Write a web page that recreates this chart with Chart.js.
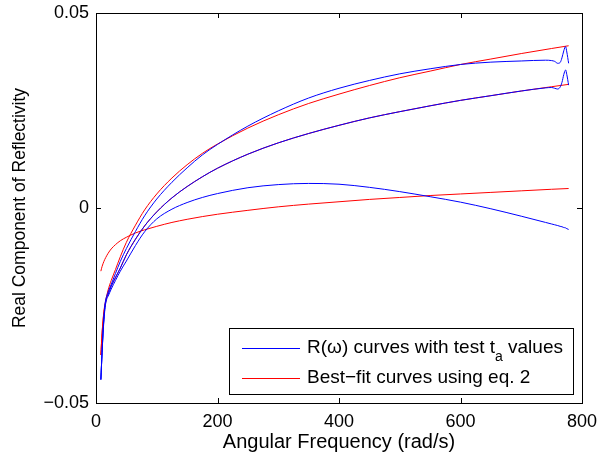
<!DOCTYPE html>
<html>
<head>
<meta charset="utf-8">
<script src="https://cdn.jsdelivr.net/npm/chart.js@4.4.0/dist/chart.umd.min.js"></script>
<style>
  html, body { margin: 0; padding: 0; background: #fff; }
</style>
</head>
<body>
<canvas id="reflChart" width="599" height="457"></canvas>
<script>
// angular frequency samples (rad/s) for the R(w) curves
const omegaR = [8, 10, 12, 15, 18, 20, 25, 32, 40, 50, 65, 80, 100, 125, 150, 175, 200, 250, 300, 350, 400, 450, 500, 550, 600, 650, 700, 740, 750, 755, 760, 764, 767, 770, 773, 775, 778];
const blue1 = [-0.0440, -0.0370, -0.0305, -0.0245, -0.0224, -0.0215, -0.0196, -0.0168, -0.0137, -0.0104, -0.0060, -0.0020, 0.0023, 0.0066, 0.0103, 0.0136, 0.0163, 0.0210, 0.0249, 0.0282, 0.0307, 0.0327, 0.0344, 0.0357, 0.0368, 0.0374, 0.0377, 0.0379, 0.0378, 0.0376, 0.0371, 0.0373, 0.0385, 0.0403, 0.0414, 0.0400, 0.0371];
const blue2 = [-0.0440, -0.0370, -0.0308, -0.0250, -0.0228, -0.0222, -0.0201, -0.0179, -0.0154, -0.0120, -0.0080, -0.0046, -0.0010, 0.0026, 0.0055, 0.0080, 0.0102, 0.0138, 0.0167, 0.0191, 0.0212, 0.0231, 0.0247, 0.0262, 0.0276, 0.0288, 0.0300, 0.0308, 0.0309, 0.0307, 0.0305, 0.0310, 0.0322, 0.0342, 0.0354, 0.0342, 0.0315];
const blue3 = [-0.0440, -0.0372, -0.0312, -0.0255, -0.0232, -0.0226, -0.0208, -0.0186, -0.0162, -0.0136, -0.0096, -0.0061, -0.0028, -0.0003, 0.0014, 0.0027, 0.0037, 0.0052, 0.0060, 0.0063, 0.0061, 0.0053, 0.0042, 0.0029, 0.0015, -0.0002, -0.0021, -0.0037, -0.0041, -0.0043, -0.0045, -0.0047, -0.0048, -0.0050, -0.0051, -0.0053, -0.0055];

// angular frequency samples for the eq. 2 fits
const omegaFit = [8, 10, 13, 16, 20, 25, 32, 40, 50, 65, 80, 100, 125, 150, 175, 200, 250, 300, 350, 400, 450, 500, 550, 600, 650, 700, 750, 778];
const red1 = [-0.0377, -0.0320, -0.0265, -0.0237, -0.0210, -0.0186, -0.0158, -0.0125, -0.0088, -0.0044, -0.0005, 0.0036, 0.0077, 0.0111, 0.0140, 0.0164, 0.0205, 0.0239, 0.0268, 0.0292, 0.0314, 0.0334, 0.0351, 0.0368, 0.0382, 0.0396, 0.0409, 0.0416];
const red2 = [-0.0377, -0.0322, -0.0268, -0.0242, -0.0218, -0.0200, -0.0178, -0.0154, -0.0120, -0.0080, -0.0046, -0.0010, 0.0026, 0.0055, 0.0080, 0.0102, 0.0138, 0.0167, 0.0191, 0.0212, 0.0231, 0.0247, 0.0262, 0.0276, 0.0288, 0.0300, 0.0311, 0.0317];
const red3 = [-0.0162, -0.0150, -0.0137, -0.0127, -0.0116, -0.0105, -0.0094, -0.0084, -0.0075, -0.0064, -0.0056, -0.0047, -0.0037, -0.0029, -0.0022, -0.0016, -0.0006, 0.0003, 0.0010, 0.0016, 0.0022, 0.0027, 0.0032, 0.0036, 0.0040, 0.0044, 0.0048, 0.0050];

const xTicks = [0, 200, 400, 600, 800];
const yTicks = [-0.05, 0, 0.05];

const FONT = "'Liberation Sans', Arial, Helvetica, sans-serif";
const BLUE = '#0000ff';
const RED = '#ff0000';

function toPoints(xs, ys) {
    return xs.map((x, i) => ({ x: x, y: ys[i] }));
}

function lineSet(label, xs, ys, color) {
    return {
        label: label,
        data: toPoints(xs, ys),
        borderColor: color,
        borderWidth: 1,
        pointRadius: 0,
        fill: false,
        cubicInterpolationMode: 'monotone'
    };
}

// first dataset is drawn on top, so blue goes first
const datasets = [
    lineSet('R(ω) curves with test t_a values', omegaR, blue1, BLUE),
    lineSet('R(ω) curves with test t_a values', omegaR, blue2, BLUE),
    lineSet('R(ω) curves with test t_a values', omegaR, blue3, BLUE),
    lineSet('Best−fit curves using eq. 2', omegaFit, red1, RED),
    lineSet('Best−fit curves using eq. 2', omegaFit, red2, RED),
    lineSet('Best−fit curves using eq. 2', omegaFit, red3, RED)
];

// matlab style box with inward ticks on all four sides
const boxAxes = {
    id: 'boxAxes',
    afterDatasetsDraw(chart) {
        const { ctx, chartArea: a, scales } = chart;
        const tl = 5;
        ctx.save();
        ctx.strokeStyle = '#000';
        ctx.lineWidth = 1;
        ctx.strokeRect(a.left + 0.5, a.top + 0.5, a.right - a.left, a.bottom - a.top);
        ctx.beginPath();
        xTicks.forEach(v => {
            const px = Math.round(scales.x.getPixelForValue(v)) + 0.5;
            ctx.moveTo(px, a.bottom); ctx.lineTo(px, a.bottom - tl);
            ctx.moveTo(px, a.top); ctx.lineTo(px, a.top + tl);
        });
        yTicks.forEach(v => {
            const py = Math.round(scales.y.getPixelForValue(v)) + 0.5;
            ctx.moveTo(a.left, py); ctx.lineTo(a.left + tl, py);
            ctx.moveTo(a.right, py); ctx.lineTo(a.right - tl, py);
        });
        ctx.stroke();
        ctx.restore();
    }
};

// boxed legend in the lower right corner, with the t_a subscript
const boxLegend = {
    id: 'boxLegend',
    afterDraw(chart) {
        const { ctx, chartArea: a } = chart;
        const w = 344, h = 66;
        const x0 = Math.round(a.right - 9 - w), y0 = Math.round(a.bottom - 9 - h);
        const entries = [datasets[0], datasets[3]];
        ctx.save();
        ctx.fillStyle = '#fff';
        ctx.fillRect(x0, y0, w, h);
        ctx.strokeStyle = '#000';
        ctx.lineWidth = 1;
        ctx.strokeRect(x0 + 0.5, y0 + 0.5, w, h);
        entries.forEach((ds, i) => {
            const ly = y0 + 20 + i * 30 + 0.5;
            ctx.strokeStyle = ds.borderColor;
            ctx.beginPath();
            ctx.moveTo(x0 + 13, ly);
            ctx.lineTo(x0 + 71, ly);
            ctx.stroke();
            ctx.fillStyle = '#000';
            ctx.textBaseline = 'alphabetic';
            ctx.textAlign = 'left';
            let tx = x0 + 78;
            const base = ly + 4;
            ds.label.split(/(_[a-z])/).forEach(part => {
                if (part.startsWith('_')) {
                    ctx.font = '14px ' + FONT;
                    ctx.fillText(part.slice(1), tx, base + 8);
                    tx += ctx.measureText(part.slice(1)).width;
                } else {
                    ctx.font = '19px ' + FONT;
                    ctx.fillText(part, tx, base);
                    tx += ctx.measureText(part).width;
                }
            });
        });
        ctx.restore();
    }
};

const fmtY = v => v === 0 ? '0' : (v < 0 ? '\u2212' + Math.abs(v).toFixed(2) : v.toFixed(2));

new Chart(document.getElementById('reflChart'), {
    type: 'line',
    data: { datasets: datasets },
    options: {
        responsive: false,
        animation: false,
        events: [],
        layout: { padding: { top: 13, right: 17, bottom: 0, left: 0 } },
        plugins: { legend: { display: false }, tooltip: { enabled: false } },
        scales: {
            x: {
                type: 'linear',
                min: 0,
                max: 800,
                afterFit: s => { s.height = 54; s.paddingLeft = 0; s.paddingRight = 0; },
                afterBuildTicks: s => { s.ticks = xTicks.map(v => ({ value: v })); },
                grid: { display: false, drawTicks: false, tickLength: 0 },
                border: { display: false },
                ticks: { color: '#000', font: { family: FONT, size: 18 }, padding: 8, maxRotation: 0, callback: v => String(v) },
                title: { display: true, text: 'Angular Frequency (rad/s)', color: '#000', font: { family: FONT, size: 20 }, padding: { top: 0, bottom: 3 } }
            },
            y: {
                type: 'linear',
                min: -0.05,
                max: 0.05,
                afterFit: s => { s.width = 96; s.paddingTop = 0; s.paddingBottom = 0; },
                afterBuildTicks: s => { s.ticks = yTicks.map(v => ({ value: v })); },
                grid: { display: false, drawTicks: false, tickLength: 0 },
                border: { display: false },
                ticks: { color: '#000', font: { family: FONT, size: 18 }, padding: 7, callback: fmtY },
                title: { display: true, text: 'Real Component of Reflectivity', color: '#000', font: { family: FONT, size: 17.5 }, padding: { top: 10, bottom: 0 } }
            }
        }
    },
    plugins: [boxAxes, boxLegend]
});
</script>
</body>
</html>
